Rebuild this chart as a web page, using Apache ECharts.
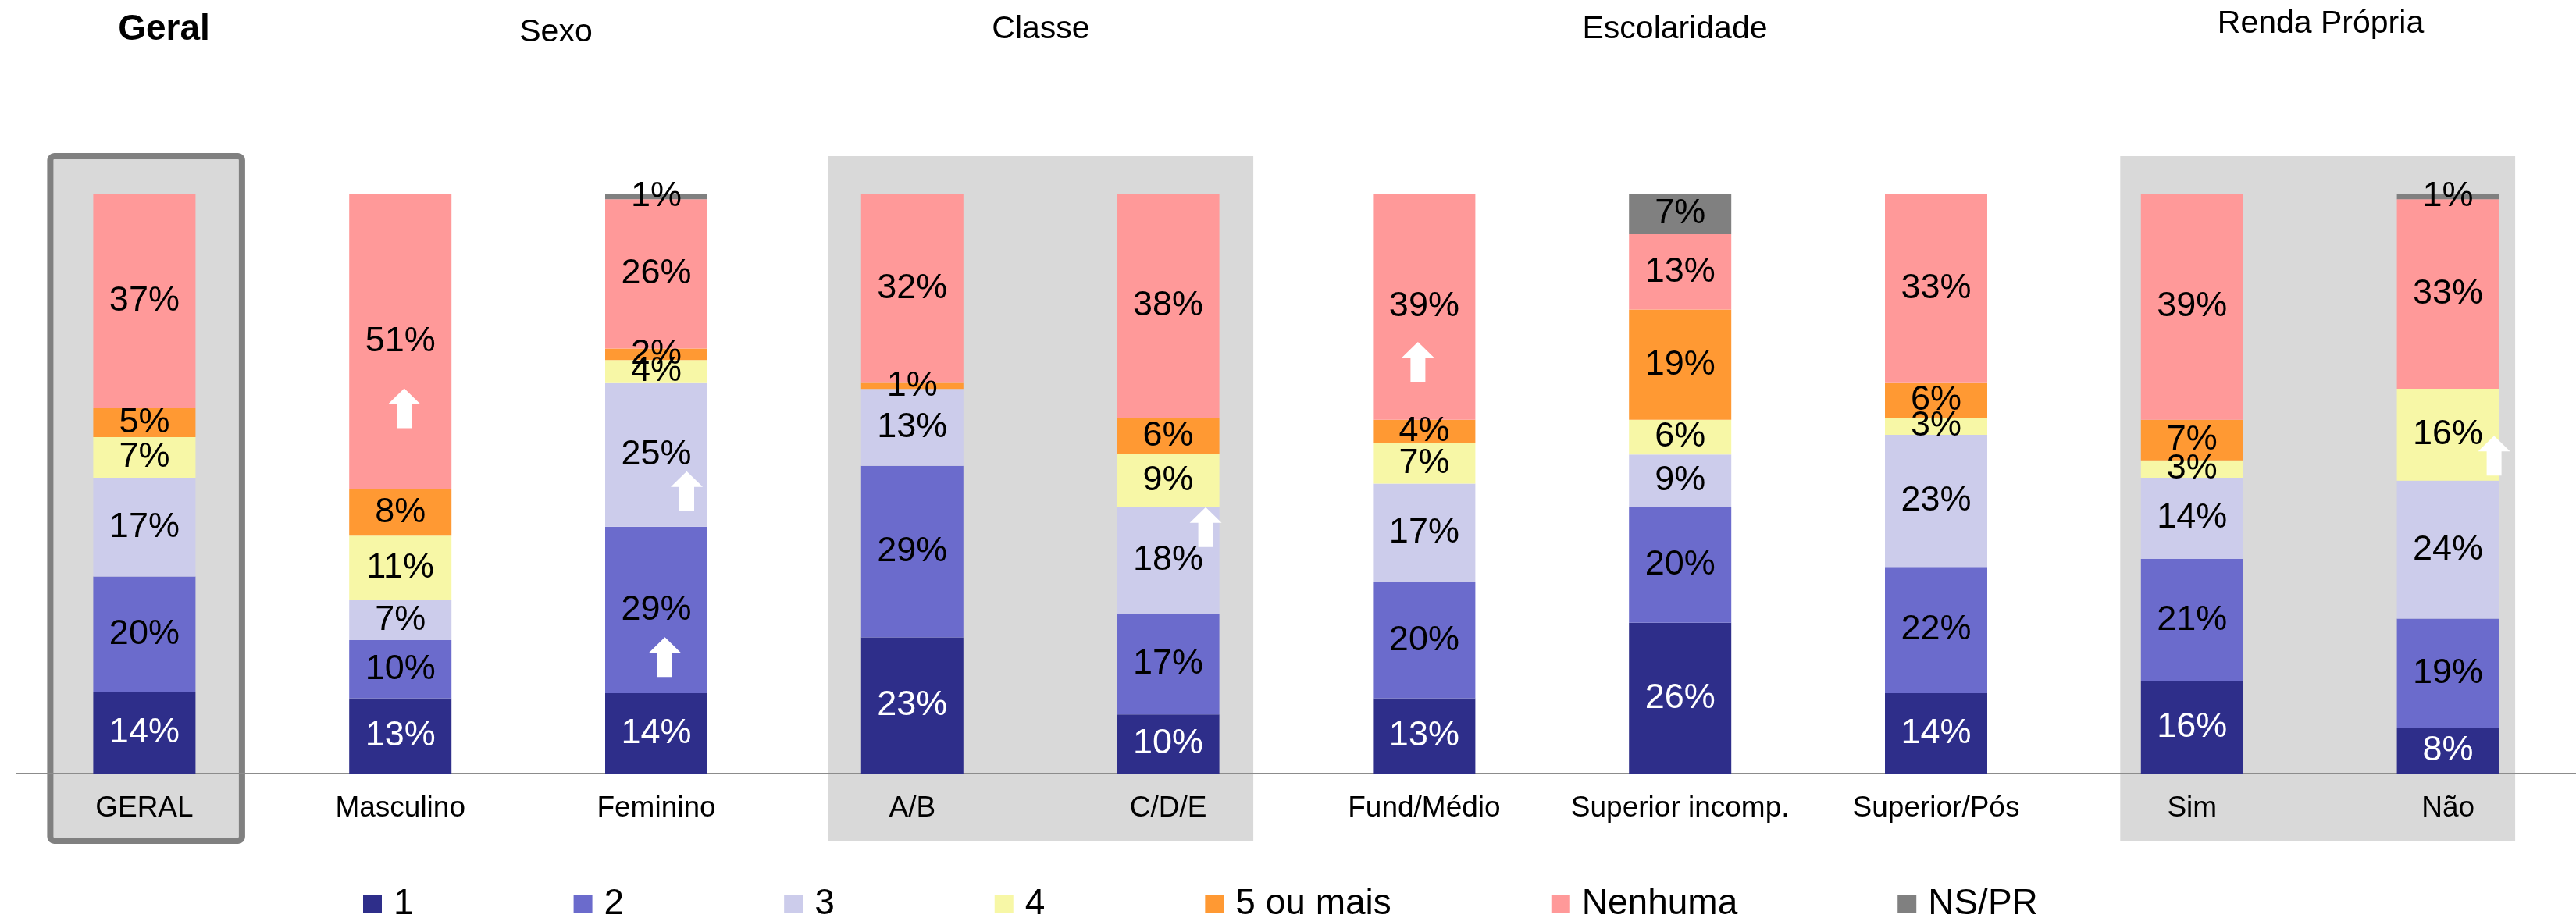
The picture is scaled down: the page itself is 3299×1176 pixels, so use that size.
<!DOCTYPE html>
<html lang="pt">
<head>
    <meta charset="UTF-8">
    <title>Quantidade por perfil</title>
    <script type="text/javascript" src="https://cdn.jsdelivr.net/npm/echarts@6/dist/echarts.min.js"></script>
    <style>
        html, body { margin: 0; padding: 0; background: #fff; }
        #chart1 { width: 3299px; height: 1176px; }
    </style>
</head>
<body>
    <div id="chart1"></div>
</body>
<script type="text/javascript">
    // categorias do eixo x
    var categorias = ['GERAL', 'Masculino', 'Feminino', 'A/B', 'C/D/E', 'Fund/Médio', 'Superior incomp.', 'Superior/Pós', 'Sim', 'Não']
    // valores em % (como aparecem nos rótulos)
    var serie1 = [14, 13, 14, 23, 10, 13, 26, 14, 16, 8]
    var serie2 = [20, 10, 29, 29, 17, 20, 20, 22, 21, 19]
    var serie3 = [17, 7, 25, 13, 18, 17, 9, 23, 14, 24]
    var serie4 = [7, 11, 4, 0, 9, 7, 6, 3, 3, 16]
    var serie5 = [5, 8, 2, 1, 6, 4, 19, 6, 7, 0]
    var nenhuma = [37, 51, 26, 32, 38, 39, 13, 33, 39, 33]
    var nspr = [0, 0, 1, 0, 0, 0, 7, 0, 0, 1]
    var nomes = ['1', '2', '3', '4', '5 ou mais', 'Nenhuma', 'NS/PR']
    var cores = ['#2E2E8A', '#6B6BCC', '#CCCCEB', '#F7F7A6', '#FF9933', '#FF9999', '#808080']
    // setas brancas: [índice da categoria, altura em %, deslocamento x]
    var setas = [[1, 63, 5], [2, 48.7, 39], [2, 20.1, 11], [4, 42.5, 48], [5, 71, -8], [9, 54.8, 59]]

    var fonte = '"Liberation Sans", Arial, sans-serif'
    var valores = [serie1, serie2, serie3, serie4, serie5, nenhuma, nspr]

    // 100% empilhado: normaliza cada coluna
    var totais = categorias.map(function (c, i) {
        return valores.reduce(function (s, arr) { return s + arr[i] }, 0)
    })

    var series = valores.map(function (arr, k) {
        return {
            name: nomes[k],
            type: 'bar',
            stack: 'total',
            barWidth: 131,
            itemStyle: { color: cores[k] },
            label: {
                show: true,
                position: 'inside',
                fontSize: 45,
                fontFamily: fonte,
                color: k === 0 ? '#fff' : '#000',
                formatter: function (p) { return arr[p.dataIndex] ? arr[p.dataIndex] + '%' : '' }
            },
            emphasis: { disabled: true },
            data: arr.map(function (v, i) { return v / totais[i] * 100 })
        }
    })

    series.push({
        name: 'setas',
        type: 'scatter',
        symbol: 'path://M20.5,0 L41,20 L30,20 L30,51 L11,51 L11,20 L0,20 Z',
        symbolSize: [41, 51],
        itemStyle: { color: '#fff', opacity: 1 },
        emphasis: { disabled: true },
        z: 5,
        data: setas.map(function (s) {
            return { value: [s[0], s[1]], symbolOffset: [s[2], 0] }
        })
    })

    var memberChart = echarts.init(document.getElementById('chart1'))

    var option = {
        animation: false,
        backgroundColor: '#fff',
        grid: { left: 21, top: 248, width: 3282, bottom: 185, containLabel: false },
        legend: {
            data: nomes,
            left: 465,
            top: 1135,
            padding: 0,
            itemWidth: 24,
            itemHeight: 24,
            itemGap: 205,
            icon: 'rect',
            selectedMode: false,
            textStyle: { fontSize: 46, fontFamily: fonte, color: '#000', padding: [0, 0, 0, 10] }
        },
        xAxis: {
            type: 'category',
            data: categorias,
            axisLine: { lineStyle: { color: '#8c8c8c', width: 2 } },
            axisTick: { length: 11, lineStyle: { color: '#8c8c8c', width: 2 } },
            axisLabel: { fontSize: 37, fontFamily: fonte, color: '#000', margin: 26, interval: 0 }
        },
        yAxis: {
            type: 'value',
            min: 0,
            max: 100,
            show: false
        },
        series: series
    }
    memberChart.setOption(option)

    // caixas cinzas atrás dos grupos, posicionadas a partir do eixo
    var px = function (i) { return memberChart.convertToPixel({ xAxisIndex: 0 }, categorias[i]) }
    var topo = 200, base = 1077
    var caixas = [
        { de: 3, ate: 4, esq: 108, dir: 109 },
        { de: 8, ate: 9, esq: 92, dir: 86 }
    ]
    var graficos = caixas.map(function (c) {
        var x0 = px(c.de) - c.esq, x1 = px(c.ate) + c.dir
        return {
            type: 'rect', z: -10,
            shape: { x: x0, y: topo, width: x1 - x0, height: base - topo },
            style: { fill: '#D9D9D9' }
        }
    })
    var g0 = px(0)
    graficos.push({
        type: 'rect', z: -10,
        shape: { x: g0 - 120.5, y: 200, width: 245.5, height: 877, r: 5 },
        style: { fill: '#D9D9D9', stroke: '#808080', lineWidth: 8 }
    })

    // títulos dos grupos
    var titulos = [
        { t: 'Geral', x: 210, y: 38, bold: true },
        { t: 'Sexo', x: 712, y: 42 },
        { t: 'Classe', x: 1333, y: 38 },
        { t: 'Escolaridade', x: 2145, y: 38 },
        { t: 'Renda Própria', x: 2972, y: 31 }
    ]
    titulos.forEach(function (t) {
        graficos.push({
            type: 'text', z: 10,
            x: t.x, y: t.y,
            style: {
                text: t.t,
                fontSize: t.bold ? 46 : 41,
                fontWeight: t.bold ? 'bold' : 'normal',
                fontFamily: fonte,
                fill: '#000',
                align: 'center',
                verticalAlign: 'middle'
            }
        })
    })

    memberChart.setOption({ graphic: graficos })
</script>
</html>
